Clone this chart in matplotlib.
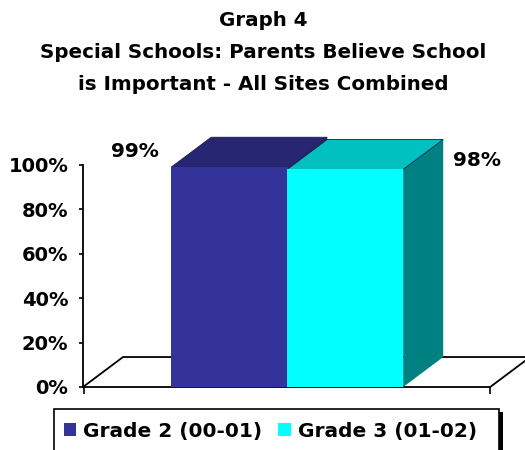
import matplotlib.pyplot as plt
from matplotlib.patches import Polygon, Rectangle

# chart data
series = ['Grade 2 (00-01)', 'Grade 3 (01-02)']
values = [99, 98]
front_colors = ['#333399', '#00FFFF']
top_colors = ['#262673', '#00C0C0']
side_colors = ['#262673', '#008080']
title = 'Graph 4\nSpecial Schools: Parents Believe School\nis Important - All Sites Combined'

plt.rcParams['font.family'] = ['DejaVu Sans']
plt.rcParams['font.weight'] = 'bold'

fig = plt.figure(figsize=(5.25, 4.5), dpi=100)
fig.text(0.502, 1 - 11 / 450, title, ha='center', va='top', fontsize=14.3,
         fontweight='bold', linespacing=1.85)

# axes: y 0..100 maps to pixel 387..165
px_per_unit = 2.22
ax_bottom = (450 - 387) / 450
ax_height = 122 * px_per_unit / 450
ax = fig.add_axes([83 / 525, ax_bottom, (525 - 83) / 525, ax_height])
ax.set_ylim(0, 122)
x_left, x_right = -1.26, 2.55
ax.set_xlim(x_left, x_right)

dx = 0.345   # depth offset in x (data)
dy = 13.5    # depth offset in y (data)
floor_right = 2.25

# floor
floor = Polygon([(x_left, 0), (floor_right, 0), (floor_right + dx, dy),
                 (x_left + dx, dy)], closed=True, facecolor='white',
                edgecolor='black', linewidth=1.3, zorder=1, clip_on=False)
ax.add_patch(floor)

xs = list(range(len(values)))
width = 1.0
for i, (x, v) in enumerate(zip(xs, values)):
    x0, x1 = x - width / 2, x + width / 2
    z = 2 + i * 3
    side = Polygon([(x1, 0), (x1 + dx, dy), (x1 + dx, v + dy), (x1, v)],
                   closed=True, facecolor=side_colors[i], edgecolor='none',
                   zorder=z)
    top = Polygon([(x0, v), (x1, v), (x1 + dx, v + dy), (x0 + dx, v + dy)],
                  closed=True, facecolor=top_colors[i], edgecolor='#1a1a4d',
                  linewidth=0.6, zorder=z + 1)
    ax.add_patch(side)
    ax.add_patch(top)
    ax.bar(x, v, width=width, color=front_colors[i], zorder=z + 2,
           label=series[i])

# value labels
ax.text(xs[0] - 0.81, values[0] + 7, f'{values[0]}%', ha='center',
        va='center', fontsize=14.5, fontweight='bold')
ax.text(xs[1] + 1.14, values[1] + 4, f'{values[1]}%', ha='center',
        va='center', fontsize=14.5, fontweight='bold')

# axes styling
for s in ['top', 'right', 'bottom']:
    ax.spines[s].set_visible(False)
ax.spines['left'].set_bounds(0, 100)
ax.spines['left'].set_linewidth(1.3)
ax.set_yticks(range(0, 101, 20))
ax.set_yticklabels([f'{t}%' for t in range(0, 101, 20)], fontsize=14,
                   fontweight='bold')
ax.tick_params(axis='y', direction='out', length=3, width=1.2, pad=7.5)
ax.set_xticks([x_left + 0.005, floor_right])
ax.set_xticklabels([])
ax.tick_params(axis='x', direction='out', length=5, width=1.2)
ax.patch.set_visible(False)

# legend with box and black shadow
handles, labels = ax.get_legend_handles_labels()
leg = fig.legend(handles, labels, loc='center left',
                 bbox_to_anchor=(56 / 525, 1 - 431 / 450), ncol=2,
                 frameon=False, fontsize=14.5, handlelength=0.6,
                 handleheight=0.6, handletextpad=0.35, columnspacing=0.8,
                 borderaxespad=0)
fig.patches.append(Rectangle((54 / 525, -0.05), (499 - 54) / 525,
                             0.05 + (450 - 409) / 450,
                             transform=fig.transFigure, facecolor='none',
                             edgecolor='black', linewidth=1.2))
fig.patches.append(Rectangle((499 / 525, -0.05), 4 / 525,
                             0.05 + (450 - 412) / 450,
                             transform=fig.transFigure, facecolor='black',
                             edgecolor='none'))

fig.savefig('out.png', dpi=100)
